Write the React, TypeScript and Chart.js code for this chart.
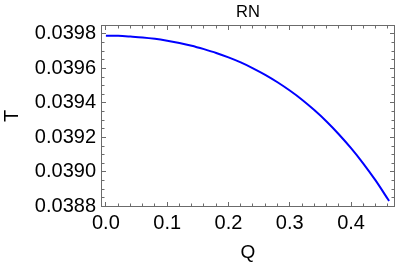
import React, { useEffect, useRef } from 'react';
import { Chart, registerables } from 'chart.js';

Chart.register(...registerables);

// Values
const qValues = [0, 0.02, 0.04, 0.06, 0.08, 0.1, 0.12, 0.14, 0.16, 0.18, 0.2, 0.22, 0.24, 0.26, 0.28, 0.3, 0.32, 0.34, 0.36, 0.38, 0.4, 0.42, 0.44, 0.46, 0.462];
const tValues = [0.03979, 0.039789, 0.039785, 0.03978, 0.039772, 0.039761, 0.039748, 0.039732, 0.039712, 0.03969, 0.039664, 0.039635, 0.039601, 0.039563, 0.03952, 0.039472, 0.039419, 0.039359, 0.039293, 0.039219, 0.039138, 0.039049, 0.038951, 0.038843, 0.038832];

const xTicks = [0, 0.1, 0.2, 0.3, 0.4];
const xTickLabels = ['0.0', '0.1', '0.2', '0.3', '0.4'];
const yTicks = [0.0388, 0.039, 0.0392, 0.0394, 0.0396, 0.0398];
const yTickLabels = ['0.0388', '0.0390', '0.0392', '0.0394', '0.0396', '0.0398'];

const titleText = 'RN';
const xTitle = 'Q';
const yTitle = 'T';

const FONT = '"Liberation Sans", Arial, sans-serif';
const FRAME = '#6b6b6b';

const framePlugin = {
  id: 'mmaFrame',
  afterDatasetsDraw(chart: any) {
    const { ctx, chartArea: a, scales } = chart;
    const x = scales.x;
    const y = scales.y;
    ctx.save();
    ctx.strokeStyle = FRAME;
    ctx.lineWidth = 1;
    ctx.strokeRect(a.left + 0.5, a.top + 0.5, a.right - a.left - 1, a.bottom - a.top - 1);
    ctx.beginPath();
    // x ticks (major every 0.1, minor every 0.02)
    for (let i = -5; i <= 30; i++) {
      const v = i * 0.02;
      const px = Math.floor(x.getPixelForValue(v)) + 0.5;
      if (px <= a.left + 1 || px >= a.right - 1) continue;
      const len = i % 5 === 0 ? 4 : 2.5;
      ctx.moveTo(px, a.bottom - 1);
      ctx.lineTo(px, a.bottom - 1 - len);
      ctx.moveTo(px, a.top + 1);
      ctx.lineTo(px, a.top + 1 + len);
    }
    // y ticks (major every 0.0002, minor every 0.00005)
    for (let i = 0; i <= 25; i++) {
      const v = 0.0388 + i * 0.00005;
      const py = Math.floor(y.getPixelForValue(v)) + 0.5;
      if (py <= a.top + 1 || py >= a.bottom - 1) continue;
      const len = i % 4 === 0 ? 4 : 2.5;
      ctx.moveTo(a.left + 1, py);
      ctx.lineTo(a.left + 1 + len, py);
      ctx.moveTo(a.right - 1, py);
      ctx.lineTo(a.right - 1 - len, py);
    }
    ctx.stroke();
    // title centred over the plot frame
    ctx.fillStyle = '#000';
    ctx.font = `16.5px ${FONT}`;
    ctx.textAlign = 'center';
    ctx.textBaseline = 'alphabetic';
    ctx.fillText(titleText, (a.left + a.right) / 2, 16.8);
    ctx.restore();
  },
};

export default function App() {
  const ref = useRef<HTMLCanvasElement | null>(null);

  useEffect(() => {
    if (!ref.current) return;
    const data = qValues.map((q, i) => ({ x: q, y: tValues[i] }));
    const chart = new Chart(ref.current, {
      type: 'line',
      data: {
        datasets: [
          {
            data,
            borderColor: 'rgb(0,0,255)',
            borderWidth: 2,
            pointRadius: 0,
            fill: false,
            cubicInterpolationMode: 'monotone',
          },
        ],
      },
      plugins: [framePlugin],
      options: {
        responsive: false,
        animation: false,
        devicePixelRatio: 1,
        layout: { padding: { left: 0, right: 1, top: 25, bottom: 0 } },
        plugins: {
          legend: { display: false },
          tooltip: { enabled: false },
          title: { display: false },
        },
        scales: {
          x: {
            type: 'linear',
            min: -0.008,
            max: 0.4717,
            afterFit: (s: any) => {
              s.height = 60;
            },
            afterBuildTicks: (s: any) => {
              s.ticks = xTicks.map((v) => ({ value: v }));
            },
            grid: { display: false, drawTicks: false },
            border: { display: false },
            ticks: {
              padding: 4,
              color: '#000',
              maxRotation: 0,
              autoSkip: false,
              font: { family: FONT, size: 20 },
              callback: (_v: any, i: number) => xTickLabels[i],
            },
            title: {
              display: true,
              text: xTitle,
              color: '#000',
              font: { family: FONT, size: 19, lineHeight: 1.2 },
              padding: { top: 0, bottom: 3 },
            },
          },
          y: {
            type: 'linear',
            min: 0.038797,
            max: 0.039852,
            afterFit: (s: any) => {
              s.width = 101;
            },
            afterBuildTicks: (s: any) => {
              s.ticks = yTicks.map((v) => ({ value: v }));
            },
            grid: { display: false, drawTicks: false },
            border: { display: false },
            ticks: {
              padding: 5,
              color: '#000',
              autoSkip: false,
              font: { family: FONT, size: 20 },
              callback: (_v: any, i: number) => yTickLabels[i],
            },
            title: {
              display: true,
              text: yTitle,
              color: '#000',
              font: { family: FONT, size: 20, lineHeight: 1.2 },
              padding: { top: 0, bottom: 0 },
            },
          },
        },
      },
    } as any);
    return () => chart.destroy();
  }, []);

  return (
    <div style={{ position: 'absolute', left: 0, top: 0, width: 396, height: 267, background: '#fff' }}>
      <canvas ref={ref} width={396} height={267} style={{ width: 396, height: 267, display: 'block' }} />
    </div>
  );
}
